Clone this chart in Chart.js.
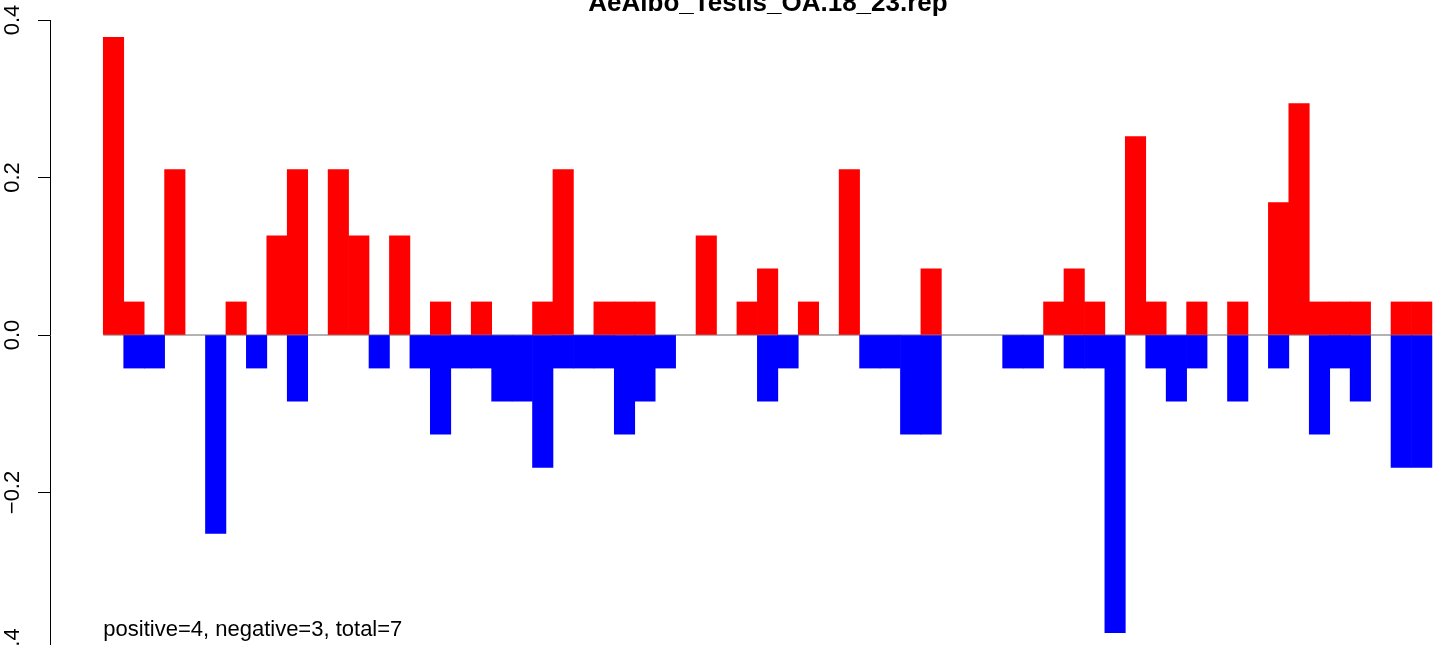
<!DOCTYPE html>
<html>
<head>
<meta charset="utf-8">
<script src="https://cdn.jsdelivr.net/npm/chart.js@4.4.1/dist/chart.umd.min.js"></script>
<style>
  html, body { margin: 0; padding: 0; background: #fff; overflow: hidden; }
  canvas { display: block; }
</style>
</head>
<body>
<canvas id="repChart" width="1436" height="660"></canvas>
<script>
// bin values (65 bins), positive part and negative part
const positives = [0.378, 0.042, 0, 0.21, 0, 0, 0.042, 0, 0.126, 0.21,
  0, 0.21, 0.126, 0, 0.126, 0, 0.042, 0, 0.042, 0,
  0, 0.042, 0.21, 0, 0.042, 0.042, 0.042, 0, 0, 0.126,
  0, 0.042, 0.084, 0, 0.042, 0, 0.21, 0, 0, 0,
  0.084, 0, 0, 0, 0, 0, 0.042, 0.084, 0.042, 0,
  0.252, 0.042, 0, 0.042, 0, 0.042, 0, 0.168, 0.294, 0.042,
  0.042, 0.042, 0, 0.042, 0.042];
const negatives = [0, -0.042, -0.042, 0, 0, -0.252, 0, -0.042, 0, -0.084,
  0, 0, 0, -0.042, 0, -0.042, -0.126, -0.042, -0.042, -0.084,
  -0.084, -0.168, -0.042, -0.042, -0.042, -0.126, -0.084, -0.042, 0, 0,
  0, 0, -0.084, -0.042, 0, 0, 0, -0.042, -0.042, -0.126,
  -0.126, 0, 0, 0, -0.042, -0.042, 0, -0.042, -0.042, -0.378,
  0, -0.042, -0.084, -0.042, 0, -0.084, 0, -0.042, 0, -0.126,
  -0.042, -0.084, 0, -0.168, -0.168];
const yTicks = [-0.4, -0.2, 0, 0.2, 0.4];
const yTickLabels = ['\u22120.4', '\u22120.2', '0.0', '0.2', '0.4'];
const titleText = 'AeAlbo_Testis_OA.18_23.rep';
const noteText = 'positive=4, negative=3, total=7';

const FONT = '"Liberation Sans", Arial, Helvetica, sans-serif';

// empty bins are left out so no zero-height bar is drawn over the base line
const posPoints = positives.map((v, i) => ({ x: i, y: v === 0 ? null : v }));
const negPoints = negatives.map((v, i) => ({ x: i, y: v === 0 ? null : v }));

// R style texts: rotated y labels, title, note
const textPlugin = {
  id: 'rText',
  afterDraw(chart) {
    const ctx = chart.ctx;
    const y = chart.scales.y;
    const x = chart.scales.x;
    ctx.save();
    ctx.fillStyle = '#000';
    ctx.font = '22px ' + FONT;
    ctx.textAlign = 'center';
    ctx.textBaseline = 'alphabetic';
    yTicks.forEach((v, i) => {
      ctx.save();
      ctx.translate(19, y.getPixelForValue(v));
      ctx.rotate(-Math.PI / 2);
      ctx.fillText(yTickLabels[i], 0, 0);
      ctx.restore();
    });

    ctx.font = 'bold 26px ' + FONT;
    ctx.fillText(titleText, 768, 11);

    ctx.font = '22px ' + FONT;
    ctx.textAlign = 'left';
    ctx.fillText(noteText, x.getPixelForValue(-0.5), 636);
    ctx.restore();
  }
};

new Chart(document.getElementById('repChart'), {
  type: 'bar',
  data: {
    datasets: [{
      label: 'positive',
      data: posPoints,
      backgroundColor: '#ff0000',
      borderWidth: 0,
      barPercentage: 1,
      categoryPercentage: 1,
      order: 1
    }, {
      label: 'negative',
      data: negPoints,
      backgroundColor: '#0000ff',
      borderWidth: 0,
      barPercentage: 1,
      categoryPercentage: 1,
      order: 1
    }, {
      type: 'line',
      label: 'zero',
      data: [{ x: -0.5, y: 0 }, { x: 64.5, y: 0 }],
      borderColor: '#666666',
      borderWidth: 1,
      pointRadius: 0,
      order: 2
    }]
  },
  options: {
    responsive: false,
    animation: false,
    devicePixelRatio: 1,
    layout: { padding: { top: 20, bottom: 10, left: 0, right: 0 } },
    plugins: {
      legend: { display: false },
      title: { display: false },
      tooltip: { enabled: false }
    },
    scales: {
      x: {
        type: 'linear',
        stacked: true,
        display: false,
        offset: false,
        grid: { offset: false },
        min: -3.107,
        max: 64.70
      },
      y: {
        stacked: true,
        min: -0.4,
        max: 0.4,
        afterFit: s => { s.width = 50; },
        afterBuildTicks: s => { s.ticks = yTicks.map(v => ({ value: v })); },
        ticks: { display: false },
        grid: {
          drawOnChartArea: false,
          drawTicks: true,
          tickLength: 12,
          tickColor: '#000',
          tickWidth: 1
        },
        border: { display: true, color: '#000', width: 1 }
      }
    }
  },
  plugins: [textPlugin]
});
</script>
</body>
</html>
